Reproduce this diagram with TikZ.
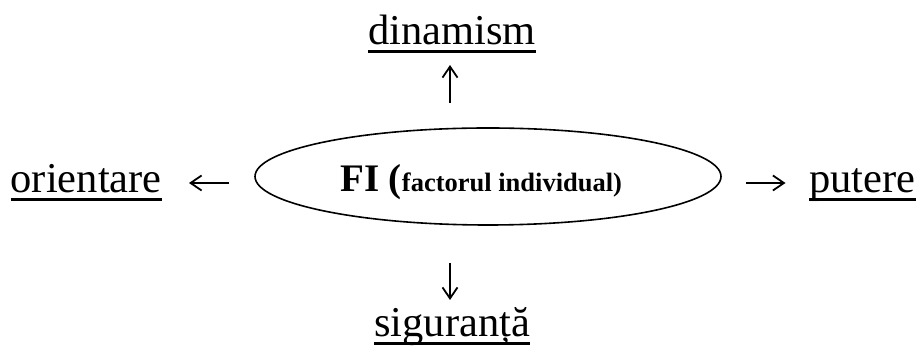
\documentclass[tikz,border=0pt]{standalone}
\usepackage{fontspec}
\setmainfont{Liberation Serif}
\usetikzlibrary{shapes.geometric,arrows.meta}
\begin{document}
\begin{tikzpicture}[x=1pt,y=1pt,
  word/.style={inner sep=0pt, anchor=base west, font=\fontsize{42.5pt}{50pt}\selectfont},
  uline/.style={line width=3pt},
  link/.style={line width=1.8pt, -{Straight Barb[length=11pt, width=15pt, line width=1.8pt]}},
  oval/.style={draw, ellipse, line width=1.6pt, inner sep=0pt, minimum width=466pt, minimum height=97pt}
]
\useasboundingbox (0,0) rectangle (918,347);
% central ellipse
\node[oval] (fi) at (488,170.5) {};
\node[inner sep=0pt, anchor=base west] (fitext) at (340,155)
  {\bfseries\fontsize{39pt}{45pt}\selectfont FI (\fontsize{26.5pt}{30pt}\selectfont factorul individual)};
% words
\node[word] (din) at (368,302) {dinamism};
\node[word] (ori) at (10.5,154) {orientare};
\node[word] (put) at (809,154) {putere};
\node[word] (sig) at (374,10) {siguranță};
% underlines
\foreach \n in {din,ori,put,sig}
  \draw[uline] ([yshift=-7pt]\n.base west) -- ([yshift=-7pt]\n.base east);
% arrow end points
\coordinate (upS) at (450,244);   \coordinate (upE) at (450,282);
\coordinate (dnS) at (450,84);    \coordinate (dnE) at (450,47);
\coordinate (ltS) at (229,164);   \coordinate (ltE) at (189,164);
\coordinate (rtS) at (745.5,164); \coordinate (rtE) at (785.5,164);
\draw[link] (upS) -- (upE);
\draw[link] (dnS) -- (dnE);
\draw[link] (ltS) -- (ltE);
\draw[link] (rtS) -- (rtE);
\end{tikzpicture}
\end{document}
